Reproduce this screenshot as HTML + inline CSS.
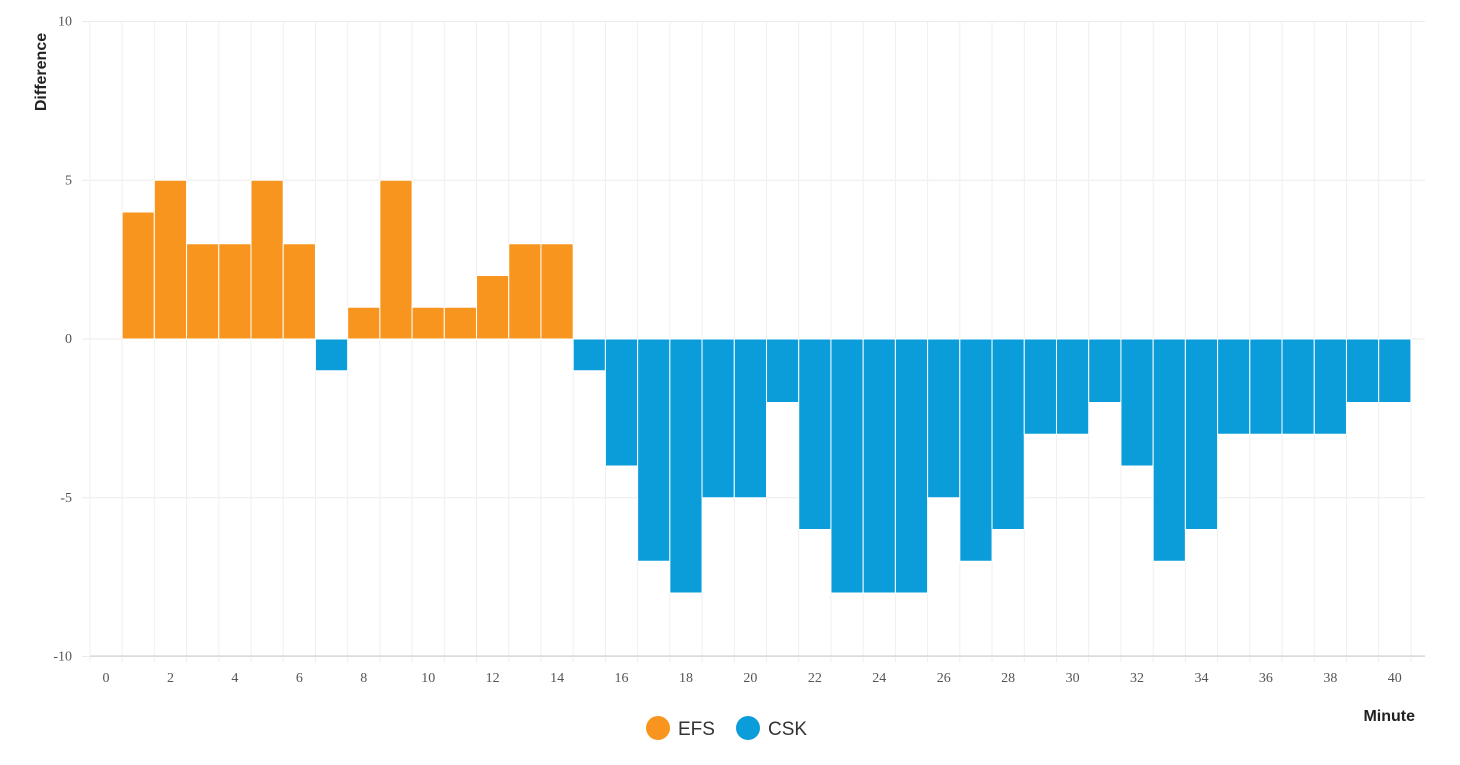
<!DOCTYPE html>
<html><head><meta charset="utf-8"><style>
html,body{margin:0;padding:0;background:#fff;width:1460px;height:765px;overflow:hidden;font-family:"Liberation Sans",sans-serif}
</style></head><body>
<svg id="chart" width="1460" height="765"></svg>
<script>
const minutes=[1,2,3,4,5,6,7,8,9,10,11,12,13,14,15,16,17,18,19,20,21,22,23,24,25,26,27,28,29,30,31,32,33,34,35,36,37,38,39,40];
const diffs=[4,5,3,3,5,3,-1,1,5,1,1,2,3,3,-1,-4,-7,-8,-5,-5,-2,-6,-8,-8,-8,-5,-7,-6,-3,-3,-2,-4,-7,-6,-3,-3,-3,-3,-2,-2];
const yTicks=[10,5,0,-5,-10];
const xTicks=[0,2,4,6,8,10,12,14,16,18,20,22,24,26,28,30,32,34,36,38,40];
const seriesNames=["EFS","CSK"];
const seriesColors=["#F7951E","#0A9DD9"];

const NS="http://www.w3.org/2000/svg";
const svg=document.getElementById('chart');
const X0=90,X1=1425,Y0=21,Y1=656;
const xs=v=>106+(v)*32.22;
const ys=v=>339-v*31.75;
function mk(t,a,p){const e=document.createElementNS(NS,t);for(const k in a)e.setAttribute(k,a[k]);(p||svg).appendChild(e);return e;}

yTicks.forEach(t=>{
  const l=mk('line',{x1:X0-8,x2:X1,y1:ys(t),y2:ys(t),stroke:'#ebebeb','stroke-width':1});
  
  
  const tx=mk('text',{x:72,y:ys(t)+4,'text-anchor':'end','font-size':14,fill:'#555','font-family':'"Liberation Serif",serif'});
  tx.textContent=t;
  
  
});
for(let i=0;i<=41;i++){
  const x=xs(i-0.5);
  const l=mk('line',{x1:x,x2:x,y1:Y0,y2:Y1+6,stroke:'#efefef','stroke-width':1});
  
  
}
const ax=mk('line',{x1:X0,x2:X1,y1:Y1,y2:Y1,stroke:'#ccc','stroke-width':1});


xTicks.forEach(t=>{
  const tx=mk('text',{x:xs(t),y:682,'text-anchor':'middle','font-size':14,fill:'#555','font-family':'"Liberation Serif",serif'});
  tx.textContent=t;
  
  
});
const bw=32.22;
minutes.forEach((m,i)=>{
  const v=diffs[i];
  const y=Math.min(ys(v),ys(0)),h=Math.abs(ys(v)-ys(0));
  const r=mk('rect',{x:xs(m)-bw/2,y:y,width:bw,height:h,fill:v>=0?seriesColors[0]:seriesColors[1],stroke:'#fff','stroke-width':1});
  
  
});
const yt=mk('text',{x:0,y:0,transform:'translate(46,72) rotate(-90)','text-anchor':'middle','font-size':16,'font-weight':'bold',fill:'#222'});
yt.textContent='Difference';


const xt=mk('text',{x:1415,y:721,'text-anchor':'end','font-size':16,'font-weight':'bold',fill:'#222'});
xt.textContent='Minute';


const lx=[658,748];
seriesNames.forEach((n,i)=>{
  const c=mk('circle',{cx:lx[i],cy:728,r:12,fill:seriesColors[i]});
  
  
  const t=mk('text',{x:lx[i]+20,y:735,'font-size':19,fill:'#333'});
  t.textContent=n;
  
  
});
</script>
</body></html>
